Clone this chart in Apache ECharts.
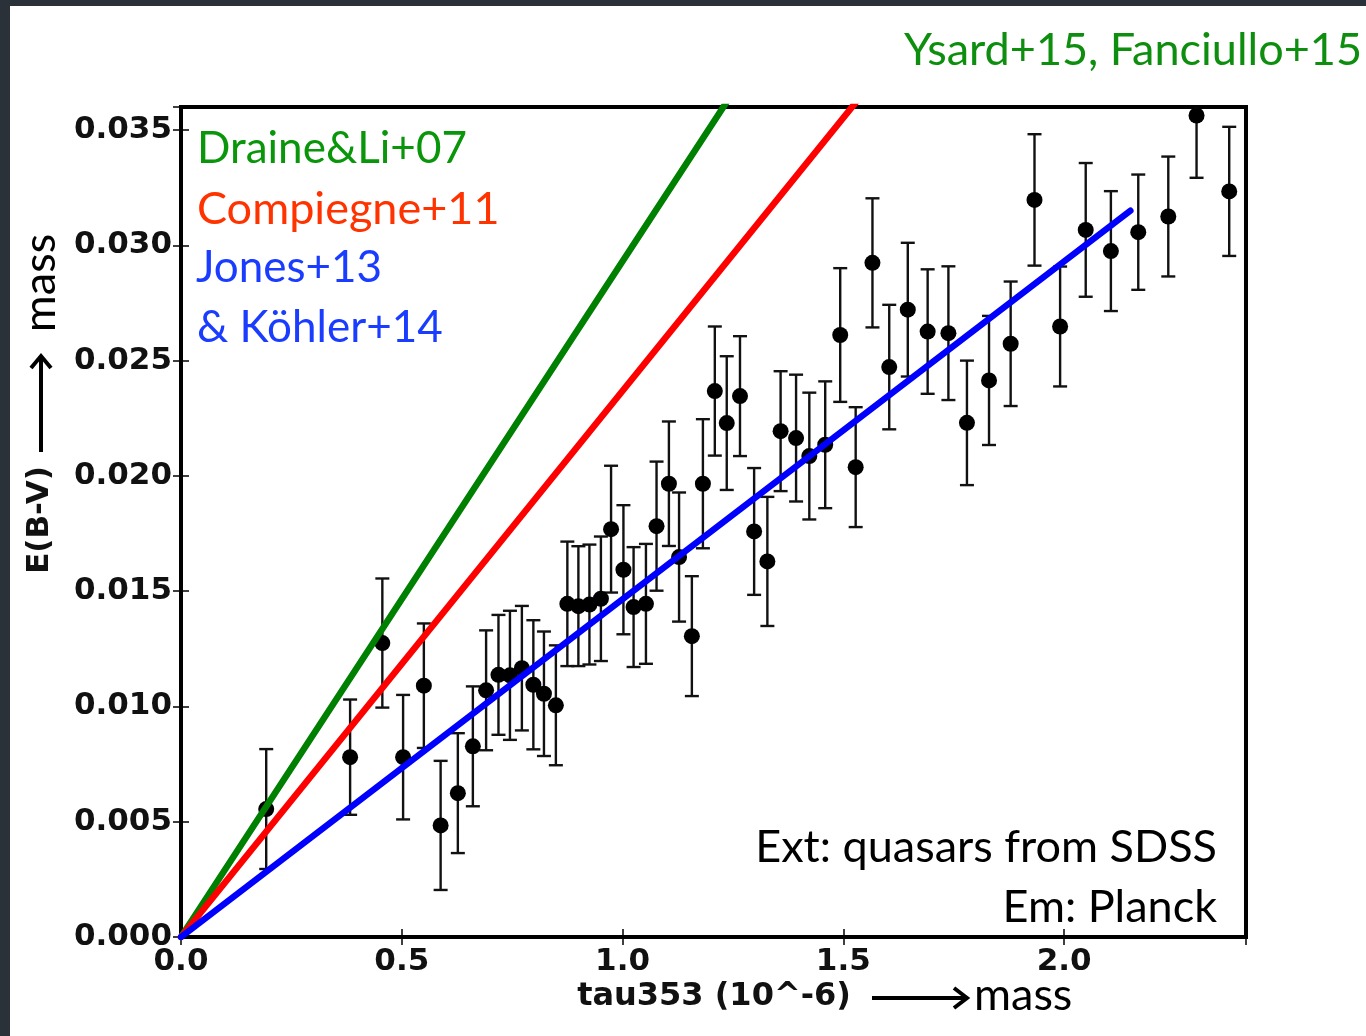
<!DOCTYPE html>
<html>
<head>
<meta charset="utf-8">
<script src="https://cdn.jsdelivr.net/npm/echarts@6/dist/echarts.min.js"></script>
<style>
html,body{margin:0;padding:0;background:#fff;}
#c{width:1366px;height:1036px;}
</style>
</head>
<body>
<div id="c"></div>
<script>
// tau353 (10^-6)
const xVals = [0.193,0.383,0.456,0.503,0.550,0.588,0.627,0.661,0.691,0.719,0.745,0.772,0.798,0.822,0.849,
  0.875,0.900,0.925,0.951,0.974,1.002,1.025,1.053,1.077,1.105,1.128,1.157,1.182,1.209,1.236,1.266,
  1.298,1.328,1.358,1.393,1.423,1.459,1.493,1.528,1.566,1.604,1.646,1.691,1.738,1.780,1.830,1.879,
  1.933,1.991,2.049,2.106,2.168,2.236,2.300,2.374];
// E(B-V)
const yVals = [0.00555,0.0078,0.01275,0.0078,0.0109,0.00484,0.00624,0.00827,0.0107,0.01137,0.01135,0.01166,0.01094,0.01055,0.01005,
  0.01445,0.01435,0.01442,0.01467,0.01769,0.01593,0.01431,0.01445,0.01782,0.01966,0.01648,0.01305,0.01966,0.02368,0.02229,0.02346,
  0.01759,0.01629,0.02194,0.02164,0.02086,0.02135,0.02611,0.02038,0.02924,0.02472,0.02721,0.02626,0.02619,0.0223,0.02414,0.02573,
  0.03197,0.02648,0.03067,0.02975,0.03057,0.03125,0.03563,0.03234];
// error bar half-lengths
const errVals = [0.0026,0.0025,0.0028,0.0027,0.0027,0.0028,0.0026,0.0026,0.0026,0.0026,0.0028,0.0027,0.0028,0.0027,0.0026,
  0.0027,0.0026,0.0026,0.0027,0.00275,0.0028,0.0026,0.0026,0.0028,0.0027,0.0028,0.0026,0.0028,0.0028,0.0029,0.0026,
  0.00275,0.0028,0.0026,0.00275,0.00275,0.00275,0.0029,0.0026,0.0028,0.0027,0.0029,0.0027,0.0029,0.0027,0.0028,0.0027,
  0.00285,0.0026,0.0029,0.0026,0.0025,0.0026,0.0027,0.0028];
// model lines (x, y endpoints)
const draineX = [0, 1.30], draineY = [0, 0.0381];
const compiegneX = [0, 1.60], compiegneY = [0, 0.0379];
const jonesX = [0, 2.15], jonesY = [0, 0.0315];
const xTicks = [0.0, 0.5, 1.0, 1.5, 2.0];
const yTicks = [0.000, 0.005, 0.010, 0.015, 0.020, 0.025, 0.030, 0.035];

const chart = echarts.init(document.getElementById('c'));
const pts = xVals.map((x, i) => [x, yVals[i]]);
const errData = xVals.map((x, i) => [x, yVals[i] - errVals[i], yVals[i] + errVals[i]]);
const pair = (xs, ys) => xs.map((x, i) => [x, ys[i]]);
const near = (v, arr) => arr.some(t => Math.abs(t - v) < 1e-9);
const CAL = 'Lato, "Open Sans", sans-serif';
const DJ = '"DejaVu Sans", sans-serif';

const tickCommon = {show: true, inside: true, length: 8, lineStyle: {color: '#000', width: 1.5}};
const option = {
  backgroundColor: '#fff',
  animation: false,
  grid: {left: 181, top: 107, width: 1065, height: 830, show: true, borderColor: '#000', borderWidth: 4, backgroundColor: '#fff'},
  xAxis: [{
    type: 'value', min: 0, max: 2.412, interval: 0.5,
    axisLine: {show: false}, splitLine: {show: false},
    axisTick: tickCommon,
    axisLabel: {margin: 9, fontFamily: DJ, fontWeight: 'bold', fontSize: 31, color: '#111',
      formatter: v => near(v, xTicks) ? v.toFixed(1) : ''}
  }, {
    type: 'value', min: 0, max: 2.412, interval: 0.5, position: 'top',
    axisLine: {show: false}, splitLine: {show: false}, axisTick: tickCommon, axisLabel: {show: false}
  }],
  yAxis: [{
    type: 'value', min: 0, max: 0.036, interval: 0.005,
    axisLine: {show: false}, splitLine: {show: false},
    axisTick: tickCommon,
    axisLabel: {margin: 9, fontFamily: DJ, fontWeight: 'bold', fontSize: 31, color: '#111',
      formatter: v => near(v, yTicks) ? v.toFixed(3) : ''}
  }, {
    type: 'value', min: 0, max: 0.036, interval: 0.005, position: 'right',
    axisLine: {show: false}, splitLine: {show: false}, axisTick: tickCommon, axisLabel: {show: false}
  }],
  series: [
    {
      type: 'custom', name: 'err', clip: true, z: 2,
      data: errData,
      renderItem: (params, api) => {
        const x = api.value(0);
        const lo = api.coord([x, api.value(1)]);
        const hi = api.coord([x, api.value(2)]);
        const w = 7;
        const st = {stroke: '#111', lineWidth: 2.4};
        return {type: 'group', children: [
          {type: 'line', shape: {x1: lo[0], y1: lo[1], x2: hi[0], y2: hi[1]}, style: st},
          {type: 'line', shape: {x1: lo[0] - w, y1: lo[1], x2: lo[0] + w, y2: lo[1]}, style: st},
          {type: 'line', shape: {x1: hi[0] - w, y1: hi[1], x2: hi[0] + w, y2: hi[1]}, style: st}
        ]};
      }
    },
    {type: 'scatter', data: pts, symbol: 'circle', symbolSize: 16, itemStyle: {color: '#000', opacity: 1}, z: 3, clip: true},
    {type: 'line', data: pair(draineX, draineY), showSymbol: false, symbol: 'none', clip: true, z: 4,
      lineStyle: {color: '#008000', width: 6.5, cap: 'round'}},
    {type: 'line', data: pair(compiegneX, compiegneY), showSymbol: false, symbol: 'none', clip: true, z: 4,
      lineStyle: {color: '#ff0000', width: 6.5, cap: 'round'}},
    {type: 'line', data: pair(jonesX, jonesY), showSymbol: false, symbol: 'none', clip: true, z: 4,
      lineStyle: {color: '#0000ff', width: 6.5, cap: 'round'}}
  ],
  graphic: [
    {type: 'rect', left: 0, top: 0, shape: {width: 1366, height: 6}, style: {fill: '#2b3138'}, z: 10},
    {type: 'rect', left: 0, top: 0, shape: {width: 10, height: 1036}, style: {fill: '#2b3138'}, z: 10},
    {type: 'text', x: 1362, y: 50, z: 10, style: {text: 'Ysard+15, Fanciullo+15', fill: '#0e8e0e', font: '45px ' + CAL, textAlign: 'right', textVerticalAlign: 'middle'}},
    {type: 'text', x: 197, y: 149, z: 10, style: {text: 'Draine&Li+07', fill: '#0a960a', font: '44px ' + CAL, textAlign: 'left', textVerticalAlign: 'middle'}},
    {type: 'text', x: 197, y: 209, z: 10, style: {text: 'Compiegne+11', fill: '#ff3300', font: '45px ' + CAL, textAlign: 'left', textVerticalAlign: 'middle'}},
    {type: 'text', x: 196, y: 268, z: 10, style: {text: 'Jones+13', fill: '#1a3cff', font: '44px ' + CAL, textAlign: 'left', textVerticalAlign: 'middle'}},
    {type: 'text', x: 197, y: 328, z: 10, style: {text: '& Köhler+14', fill: '#1a3cff', font: '44px ' + CAL, textAlign: 'left', textVerticalAlign: 'middle'}},
    {type: 'text', x: 1217, y: 847, z: 10, style: {text: 'Ext: quasars from SDSS', fill: '#000', font: '45px ' + CAL, textAlign: 'right', textVerticalAlign: 'middle'}},
    {type: 'text', x: 1217, y: 907, z: 10, style: {text: 'Em: Planck', fill: '#000', font: '45px ' + CAL, textAlign: 'right', textVerticalAlign: 'middle'}},
    // x axis name
    {type: 'text', x: 714, y: 997, z: 10, style: {text: 'tau353 (10^-6)', fill: '#111', font: 'bold 32px ' + DJ, textAlign: 'center', textVerticalAlign: 'middle'}},
    {type: 'line', z: 10, shape: {x1: 872, y1: 998, x2: 964, y2: 998}, style: {stroke: '#000', lineWidth: 4}},
    {type: 'polyline', z: 10, shape: {points: [[954, 988], [967, 998], [954, 1008]]}, style: {stroke: '#000', lineWidth: 4, fill: null}},
    {type: 'text', x: 974, y: 995, z: 10, style: {text: 'mass', fill: '#000', font: '45px ' + CAL, textAlign: 'left', textVerticalAlign: 'middle'}},
    // y axis name (rotated)
    {type: 'text', x: 40, y: 520, rotation: Math.PI / 2, z: 10, style: {text: 'E(B-V)', fill: '#111', font: 'bold 31px ' + DJ, textAlign: 'center', textVerticalAlign: 'middle'}},
    {type: 'line', z: 10, shape: {x1: 41, y1: 452, x2: 41, y2: 359}, style: {stroke: '#000', lineWidth: 4}},
    {type: 'polyline', z: 10, shape: {points: [[31, 368], [41, 356], [51, 368]]}, style: {stroke: '#000', lineWidth: 4, fill: null}},
    {type: 'text', x: 40, y: 283, rotation: Math.PI / 2, z: 10, style: {text: 'mass', fill: '#000', font: '45px ' + CAL, textAlign: 'center', textVerticalAlign: 'middle'}}
  ]
};
chart.setOption(option);
</script>
</body>
</html>
